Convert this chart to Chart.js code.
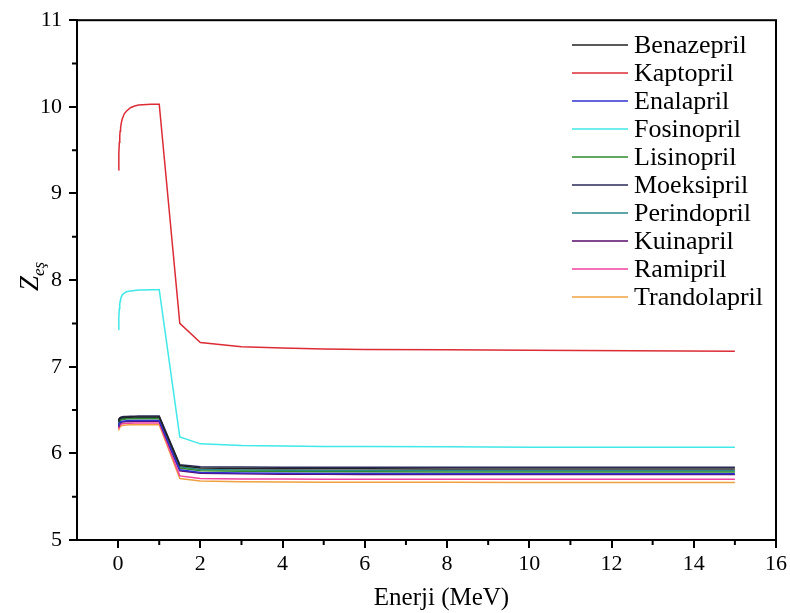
<!DOCTYPE html>
<html><head><meta charset="utf-8">
<script src="https://cdn.jsdelivr.net/npm/chart.js@4.4.1/dist/chart.umd.min.js"></script>
<style>html,body{margin:0;padding:0;background:#fff}#wrap{width:790px;height:613px}</style>
</head><body><div id="wrap"><canvas id="c" width="790" height="613"></canvas></div>
<script>
const energies = [0.01,0.015,0.02,0.03,0.04,0.05,0.06,0.08,0.1,0.15,0.2,0.3,0.4,0.5,0.6,0.8,1,1.5,2,3,4,5,6,8,10,15];
const seriesNames = ["Benazepril","Kaptopril","Enalapril","Fosinopril","Lisinopril","Moeksipril","Perindopril","Kuinapril","Ramipril","Trandolapril"];
const seriesColors = ["#222222","#dc2c36","#3030d0","#40e8e8","#2e8b2e","#2a2a5a","#2a8a8a","#5a0a6a","#f040a0","#f0a040"];
const benazepril  = [6.37,6.38,6.387,6.395,6.40,6.404,6.407,6.41,6.412,6.415,6.416,6.418,6.419,6.42,6.42,6.42,6.42,5.86,5.83,5.825,5.823,5.822,5.821,5.82,5.82,5.82];
const kaptopril   = [9.27,9.38,9.47,9.59,9.67,9.72,9.76,9.82,9.86,9.92,9.95,9.99,10.01,10.02,10.025,10.03,10.03,7.50,7.28,7.23,7.215,7.205,7.20,7.195,7.19,7.18];
const enalapril   = [6.32,6.332,6.34,6.35,6.356,6.361,6.365,6.369,6.372,6.375,6.377,6.379,6.38,6.38,6.38,6.38,6.38,5.81,5.78,5.774,5.77,5.768,5.767,5.766,5.765,5.765];
const fosinopril  = [7.43,7.52,7.58,7.67,7.72,7.76,7.78,7.81,7.83,7.85,7.865,7.875,7.88,7.885,7.885,7.89,7.89,6.19,6.11,6.09,6.085,6.08,6.078,6.075,6.072,6.07];
const lisinopril  = [6.34,6.352,6.36,6.37,6.376,6.381,6.385,6.389,6.392,6.395,6.397,6.399,6.40,6.40,6.40,6.40,6.40,5.83,5.80,5.794,5.79,5.788,5.787,5.786,5.785,5.785];
const moeksipril  = [6.38,6.39,6.397,6.405,6.41,6.414,6.417,6.42,6.422,6.425,6.426,6.428,6.429,6.43,6.43,6.43,6.43,5.87,5.845,5.842,5.841,5.84,5.84,5.84,5.84,5.84];
const perindopril = [6.36,6.37,6.377,6.385,6.39,6.394,6.397,6.40,6.402,6.405,6.406,6.408,6.409,6.41,6.41,6.41,6.41,5.845,5.815,5.808,5.805,5.803,5.802,5.801,5.80,5.80];
const kuinapril   = [6.31,6.322,6.33,6.34,6.346,6.351,6.355,6.359,6.362,6.365,6.367,6.369,6.37,6.37,6.37,6.37,6.37,5.80,5.77,5.764,5.76,5.758,5.757,5.756,5.755,5.755];
const ramipril    = [6.29,6.302,6.31,6.32,6.326,6.331,6.335,6.339,6.342,6.345,6.347,6.349,6.35,6.35,6.35,6.35,6.35,5.74,5.71,5.705,5.703,5.702,5.701,5.70,5.70,5.70];
const trandolapril= [6.27,6.282,6.29,6.30,6.306,6.311,6.315,6.319,6.322,6.325,6.327,6.329,6.33,6.33,6.33,6.33,6.33,5.71,5.68,5.672,5.669,5.667,5.666,5.666,5.665,5.665];
const xTicks = [0,2,4,6,8,10,12,14,16];
const yTicks = [5,6,7,8,9,10,11];
const xTitle = "Enerji (MeV)";
const yTitleMain = "Z";
const yTitleSub = "eş";

const allValues = [benazepril,kaptopril,enalapril,fosinopril,lisinopril,moeksipril,perindopril,kuinapril,ramipril,trandolapril];
const FONT = "'Liberation Serif','Times New Roman',serif";

const datasets = seriesNames.map((n,i)=>({
  label:n,
  data: energies.map((e,j)=>({x:e,y:allValues[i][j]})),
  borderColor: seriesColors[i],
  backgroundColor: seriesColors[i],
  borderWidth: 1.5,
  pointRadius: 0,
  tension: 0,
  fill: false
}));

const decor = {
  id:'decor',
  afterDraw(chart){
    const ctx = chart.ctx, a = chart.chartArea;
    const xs = chart.scales.x, ys = chart.scales.y;
    ctx.save();
    ctx.strokeStyle = '#000';
    ctx.lineWidth = 2;
    ctx.strokeRect(a.left, a.top, a.right-a.left, a.bottom-a.top);
    ctx.beginPath();
    for (let v=5.5; v<11; v+=1){
      const y = ys.getPixelForValue(v);
      ctx.moveTo(a.left-5, y); ctx.lineTo(a.left, y);
    }
    for (let v=1; v<16; v+=2){
      const x = xs.getPixelForValue(v);
      ctx.moveTo(x, a.bottom); ctx.lineTo(x, a.bottom+5);
    }
    ctx.stroke();
    ctx.fillStyle = '#000';
    ctx.font = "25px " + FONT;
    ctx.textAlign = 'center';
    ctx.textBaseline = 'middle';
    ctx.fillText(xTitle, (a.left+a.right)/2 + 15, 598);
    ctx.save();
    ctx.translate(30, 283);
    ctx.rotate(-Math.PI/2);
    ctx.font = "italic 27px " + FONT;
    ctx.textAlign = 'left';
    ctx.textBaseline = 'alphabetic';
    ctx.fillText(yTitleMain, -8, 8);
    const w = ctx.measureText(yTitleMain).width;
    ctx.font = "italic 17px " + FONT;
    ctx.fillText(yTitleSub, -8 + w, 14);
    ctx.restore();
    ctx.font = "26px " + FONT;
    ctx.textAlign = 'left';
    ctx.textBaseline = 'middle';
    chart.data.datasets.forEach((d,i)=>{
      const y = 45 + i*28;
      ctx.strokeStyle = d.borderColor;
      ctx.lineWidth = 1.5;
      ctx.beginPath(); ctx.moveTo(572,y); ctx.lineTo(628,y); ctx.stroke();
      ctx.fillStyle = '#000';
      ctx.fillText(d.label, 634, y+1);
    });
    ctx.restore();
  }
};

new Chart(document.getElementById('c'), {
  type:'line',
  data:{datasets},
  options:{
    responsive:false,
    devicePixelRatio:1,
    animation:false,
    layout:{padding:{left:0,right:10,top:19,bottom:0}},
    plugins:{legend:{display:false},tooltip:{enabled:false}},
    scales:{
      x:{
        type:'linear', min:-1, max:16,
        afterBuildTicks(s){ s.ticks = xTicks.map(v=>({value:v})); },
        afterFit(s){ s.height = 73; },
        ticks:{color:'#000', font:{family:FONT,size:22}, padding:3, maxRotation:0},
        grid:{display:true, drawOnChartArea:false, drawTicks:true, tickLength:8, color:'#000', lineWidth:2},
        border:{display:true, color:'#000', width:2}
      },
      y:{
        type:'linear', min:5, max:11,
        afterBuildTicks(s){ s.ticks = yTicks.map(v=>({value:v})); },
        afterFit(s){ s.width = 77; },
        ticks:{color:'#000', font:{family:FONT,size:22}, padding:7},
        grid:{display:true, drawOnChartArea:false, drawTicks:true, tickLength:8, color:'#000', lineWidth:2},
        border:{display:true, color:'#000', width:2}
      }
    }
  },
  plugins:[decor]
});
</script>
</body></html>
